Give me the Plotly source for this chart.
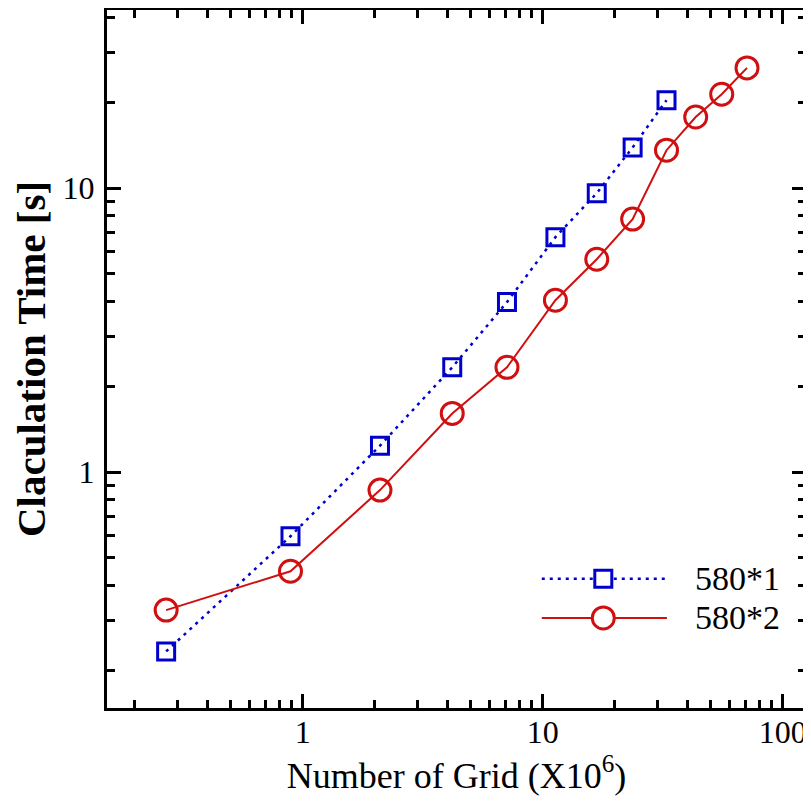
import plotly.graph_objects as go

# ---- data ----
grid_1 = [0.27, 0.89, 2.1, 4.2, 7.1, 11.3, 16.8, 23.7, 32.8]
time_1 = [0.234, 0.595, 1.24, 2.34, 3.97, 6.72, 9.6, 13.9, 20.4]

grid_2 = [0.27, 0.89, 2.1, 4.2, 7.1, 11.3, 16.8, 23.7, 32.8, 43.4, 55.7, 71.0]
time_2 = [0.327, 0.448, 0.865, 1.61, 2.34, 4.03, 5.62, 7.78, 13.6, 17.8, 21.4, 26.5]

series_names = ["580*1", "580*2"]

x_major = [1, 10, 100]
x_major_text = ["1", "10", "100"]
y_major = [1, 10]
y_major_text = ["1", "10"]
x_minor = [m * d for d in (0.1, 1, 10) for m in range(2, 10)]
y_minor = [m * d for d in (0.1, 1, 10) for m in range(2, 10)]

BLUE = "rgb(0,0,205)"
RED = "rgb(208,16,16)"
FONT = "Liberation Serif"
BLUE_DASH = "3px,5px"

fig = go.Figure()
fig.add_trace(go.Scatter(
    x=grid_1, y=time_1, mode="lines+markers", name=series_names[0],
    line=dict(color=BLUE, width=2.5, dash=BLUE_DASH),
    marker=dict(symbol="square-open", size=17, color=BLUE, line=dict(width=3, color=BLUE)),
    showlegend=False))
fig.add_trace(go.Scatter(
    x=grid_2, y=time_2, mode="lines+markers", name=series_names[1],
    line=dict(color=RED, width=2),
    marker=dict(symbol="circle-open", size=22, color=RED, line=dict(width=3, color=RED)),
    showlegend=False))

# ---- custom legend on a hidden overlay axis (0..1 box) ----
LEG_X0, LEG_X1, LEG_XM = 0.622, 0.801, 0.71
LEG_Y = [0.185, 0.129]
LEG_TX = 0.838
fig.add_trace(go.Scatter(
    x=[LEG_X0, LEG_XM, LEG_X1], y=[LEG_Y[0]] * 3, xaxis="x2", yaxis="y2",
    mode="lines", line=dict(color=BLUE, width=2.5, dash=BLUE_DASH), showlegend=False, hoverinfo="skip"))
fig.add_trace(go.Scatter(
    x=[LEG_XM], y=[LEG_Y[0]], xaxis="x2", yaxis="y2", mode="markers",
    marker=dict(symbol="square", size=17, color="white", line=dict(width=3, color=BLUE)),
    showlegend=False, hoverinfo="skip"))
fig.add_trace(go.Scatter(
    x=[LEG_X0, LEG_XM, LEG_X1], y=[LEG_Y[1]] * 3, xaxis="x2", yaxis="y2",
    mode="lines", line=dict(color=RED, width=2), showlegend=False, hoverinfo="skip"))
fig.add_trace(go.Scatter(
    x=[LEG_XM], y=[LEG_Y[1]], xaxis="x2", yaxis="y2", mode="markers",
    marker=dict(symbol="circle", size=22, color="white", line=dict(width=3, color=RED)),
    showlegend=False, hoverinfo="skip"))
for name, yy in zip(series_names, LEG_Y):
    fig.add_annotation(x=LEG_TX, y=yy, xref="x2", yref="y2", text=name, showarrow=False,
                       xanchor="left", yanchor="middle",
                       font=dict(family=FONT, size=34, color="black"))

axis_common = dict(
    type="log", showgrid=False, zeroline=False, automargin=False,
    showline=True, linecolor="black", linewidth=3, mirror="ticks",
    ticks="inside", ticklen=14, tickwidth=2.5, tickcolor="black",
    tickfont=dict(family=FONT, size=32, color="black"),
)

# page body adds an 8px offset, so the figure is sized to fit the 811x803 window
fig.update_layout(
    width=803, height=795,
    margin=dict(l=99, r=5, t=2, b=95),
    paper_bgcolor="white", plot_bgcolor="white",
    xaxis=dict(
        **axis_common,
        range=[-0.815, 2.097],
        tickmode="array", tickvals=x_major, ticktext=x_major_text,
        ticklabelstandoff=-6,
        minor=dict(tickmode="array", tickvals=x_minor, ticks="inside", ticklen=8,
                   tickwidth=2.5, tickcolor="black"),
        title=dict(text="Number of Grid (X10<sup>6</sup>)",
                   font=dict(family=FONT, size=36, color="black"), standoff=6),
    ),
    yaxis=dict(
        **axis_common,
        range=[-0.83, 1.627],
        tickmode="array", tickvals=y_major, ticktext=y_major_text,
        ticklabelstandoff=3,
        minor=dict(tickmode="array", tickvals=y_minor, ticks="inside", ticklen=8,
                   tickwidth=2.5, tickcolor="black"),
        title=dict(text="<b>Claculation Time [s]</b>",
                   font=dict(family=FONT, size=41, color="black"), standoff=10),
    ),
    xaxis2=dict(overlaying="x", range=[0, 1], visible=False, fixedrange=True),
    yaxis2=dict(overlaying="y", range=[0, 1], visible=False, fixedrange=True),
)

fig.write_html("out.html")
